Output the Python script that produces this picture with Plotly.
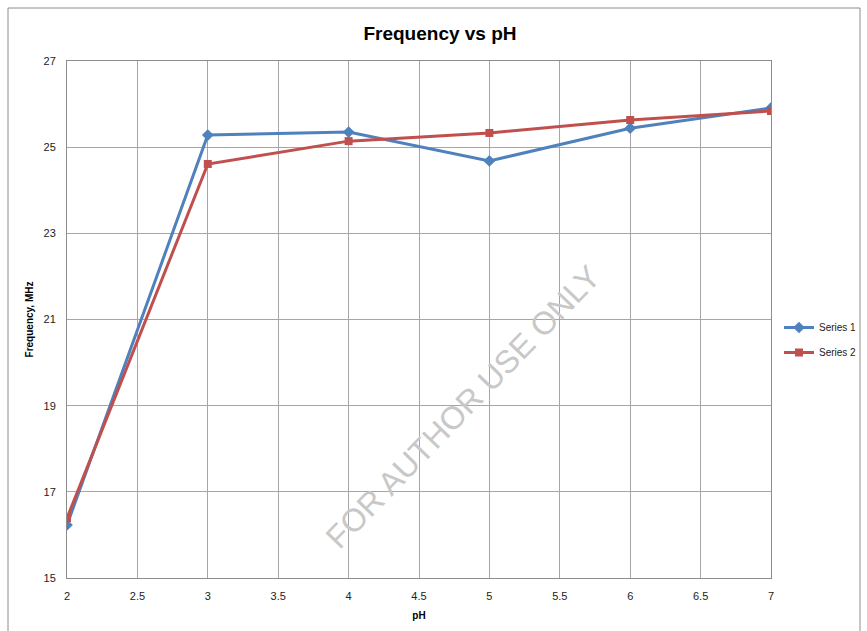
import plotly.graph_objects as go

ph = [2, 3, 4, 5, 6, 7]
series1 = [16.23, 25.28, 25.35, 24.68, 25.44, 25.91]
series2 = [16.39, 24.61, 25.14, 25.33, 25.63, 25.84]
x_ticks = [2, 2.5, 3, 3.5, 4, 4.5, 5, 5.5, 6, 6.5, 7]
x_tick_labels = ["2", "2.5", "3", "3.5", "4", "4.5", "5", "5.5", "6", "6.5", "7"]
y_ticks = [15, 17, 19, 21, 23, 25, 27]

W, H = 867, 631
L, R, T, B = 67, 96, 61, 53
pw, ph_ = W - L - R, H - T - B

def px_x(p):
    return (p - L) / pw

def px_y(p):
    return (H - B - p) / ph_

fig = go.Figure()
fig.add_trace(go.Scatter(x=ph, y=series1, name="Series 1", mode="lines+markers",
                         legendgroup="s1",
                         line=dict(color="#4F81BD", width=3),
                         marker=dict(symbol="diamond", size=9, color="#4F81BD")))
fig.add_trace(go.Scatter(x=ph, y=series2, name="Series 2", mode="lines+markers",
                         legendgroup="s2",
                         line=dict(color="#C0504D", width=3),
                         marker=dict(symbol="square", size=8, color="#C0504D")))

fig.update_layout(
    width=W, height=H,
    margin=dict(l=L, r=R, t=T, b=B, autoexpand=False),
    paper_bgcolor="white", plot_bgcolor="white",
    font=dict(family="Liberation Sans, Arial, sans-serif", size=11, color="#222"),
    title=dict(text="<b>Frequency vs pH</b>", x=px_x(440), xref="paper", xanchor="center",
               y=1 - 33 / H, yanchor="middle",
               font=dict(size=19, color="#000", family="Liberation Sans Narrow, Liberation Sans, Arial, sans-serif")),
    xaxis=dict(range=[2, 7], tickvals=x_ticks, ticktext=x_tick_labels,
               showgrid=True, gridcolor="#a6a6a6", gridwidth=1,
               showline=True, linecolor="#8c8c8c", linewidth=1, mirror=True,
               zeroline=False, ticks="", ticklen=0, ticklabelstandoff=8,
               title=dict(text="<b>pH</b>", font=dict(size=10, color="#000"), standoff=10)),
    yaxis=dict(range=[15, 27], tickvals=y_ticks,
               showgrid=True, gridcolor="#a6a6a6", gridwidth=1,
               showline=True, linecolor="#8c8c8c", linewidth=1, mirror=True,
               zeroline=False, ticks="", ticklen=0, ticklabelstandoff=8,
               title=dict(text="<b>Frequency, MHz</b>", font=dict(size=10, color="#000"), standoff=8)),
    legend=dict(x=px_x(779), y=px_y(340), xanchor="left", yanchor="middle",
                font=dict(size=10, color="#222"), bgcolor="rgba(0,0,0,0)",
                itemwidth=30, traceorder="grouped", tracegroupgap=6),
    showlegend=True,
)

fig.add_shape(type="rect", xref="paper", yref="paper",
              x0=px_x(8), x1=px_x(860), y0=px_y(645), y1=px_y(8),
              line=dict(color="#8c8c8c", width=1), layer="below")

fig.add_annotation(text="FOR AUTHOR USE ONLY", xref="paper", yref="paper",
                   x=px_x(463), y=px_y(407), xanchor="center", yanchor="middle",
                   showarrow=False, textangle=-46,
                   font=dict(size=32, color="#c8c8c8", family="Liberation Sans, Arial, sans-serif"))

fig.write_html("out.html")
